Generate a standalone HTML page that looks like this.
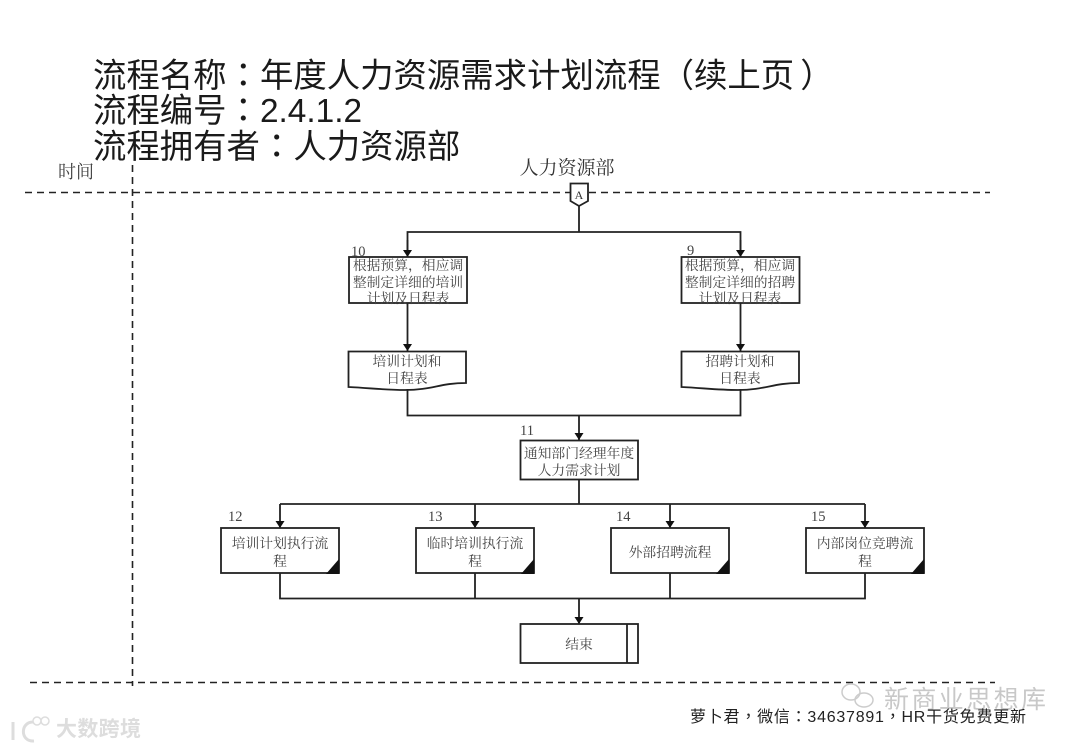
<!DOCTYPE html>
<html lang="zh-CN"><head><meta charset="utf-8">
<style>
html,body{margin:0;padding:0;background:#fff;width:1080px;height:748px;overflow:hidden}
svg{display:block}
text{text-spacing-trim:space-all}
.t{font-family:"Liberation Sans","Noto Sans CJK SC",sans-serif;font-size:33.4px;fill:#1a1a1a}
.c{font-family:"Noto Sans CJK TC",sans-serif}
.s{font-family:"Liberation Serif","Noto Serif CJK SC",serif;font-size:13.8px;fill:#444;text-anchor:middle}
.n{font-family:"Liberation Serif",serif;font-size:14.5px;fill:#444}
.l{fill:none;stroke:#222;stroke-width:1.8}
.b{fill:#fff;stroke:#222;stroke-width:1.8}
.d{fill:none;stroke:#222;stroke-width:1.6;stroke-dasharray:7 5}
</style></head><body>
<svg width="1080" height="748" viewBox="0 0 1080 748" xmlns="http://www.w3.org/2000/svg">
<defs><marker id="a" markerUnits="userSpaceOnUse" markerWidth="8" markerHeight="10" refX="7" refY="5" orient="auto"><path d="M0 0.500L7 5L0 9.500Z" fill="#111"/></marker></defs>
<text class="t" x="93" y="87">流程名称<tspan class="c" lang="zh-TW">：</tspan>年度人力资源需求计划流程（续上页<tspan dx="6">）</tspan></text>
<text class="t" x="93" y="122">流程编号<tspan class="c" lang="zh-TW">：</tspan>2.4.1.2</text>
<text class="t" x="93" y="158">流程拥有者<tspan class="c" lang="zh-TW">：</tspan>人力资源部</text>
<text x="58" y="178" style="font-family:'Liberation Serif','Noto Serif CJK SC',serif;font-size:18px;fill:#444">时间</text>
<text x="567" y="174" style="font-family:'Liberation Serif','Noto Serif CJK SC',serif;font-size:19px;fill:#333;text-anchor:middle">人力资源部</text>
<path class="d" d="M25 192.500H990"/>
<path class="d" d="M30 682.500H995"/>
<path class="d" d="M132.500 165V686"/>
<path class="b" d="M570.500 183.500H588V201L579 206L570.500 201Z"/>
<text x="579" y="199" style="font-family:'Liberation Serif',serif;font-size:12px;fill:#333;text-anchor:middle">A</text>
<path class="l" d="M579 206V232"/>
<path class="l" d="M407.500 257V232H740.500V257"/>
<path class="l" marker-end="url(#a)" d="M407.500 240V257"/>
<path class="l" marker-end="url(#a)" d="M740.500 240V257"/>
<rect class="b" x="349" y="257" width="118" height="46"/>
<rect class="b" x="681.500" y="257" width="118" height="46"/>
<text class="n" x="351" y="256">10</text><text class="n" x="687" y="255">9</text>
<text class="s" x="408" y="270">根据预算，相应调</text><text class="s" x="408" y="287">整制定详细的培训</text><text class="s" x="408" y="303">计划及日程表</text>
<text class="s" x="740" y="270">根据预算，相应调</text><text class="s" x="740" y="287">整制定详细的招聘</text><text class="s" x="740" y="303">计划及日程表</text>
<path class="l" marker-end="url(#a)" d="M407.500 303V351"/>
<path class="l" marker-end="url(#a)" d="M740.500 303V351"/>
<path class="b" d="M348.500 351.500H466V383C440 383 432 390 405 390C385 390 370 388 348.500 387Z"/>
<path class="b" d="M681.500 351.500H799V383C773 383 765 390 738 390C718 390 703 388 681.500 387Z"/>
<text class="s" x="407" y="366">培训计划和</text><text class="s" x="407" y="383">日程表</text>
<text class="s" x="740" y="366">招聘计划和</text><text class="s" x="740" y="383">日程表</text>
<path class="l" d="M407.500 389V415.500H740.500V389"/>
<path class="l" marker-end="url(#a)" d="M579 415V440"/>
<text class="n" x="520" y="435">11</text>
<rect class="b" x="520.500" y="440.500" width="117.500" height="39"/>
<text class="s" x="579" y="458">通知部门经理年度</text><text class="s" x="579" y="475">人力需求计划</text>
<path class="l" d="M579 479V504"/>
<path class="l" d="M280 504H865"/>
<path class="l" marker-end="url(#a)" d="M280 504V528"/>
<path class="l" marker-end="url(#a)" d="M475 504V528"/>
<path class="l" marker-end="url(#a)" d="M670 504V528"/>
<path class="l" marker-end="url(#a)" d="M865 504V528"/>
<text class="n" x="228" y="521">12</text><text class="n" x="428" y="521">13</text><text class="n" x="616" y="521">14</text><text class="n" x="811" y="521">15</text>
<rect class="b" x="221" y="528" width="118" height="45"/>
<rect class="b" x="416" y="528" width="118" height="45"/>
<rect class="b" x="611" y="528" width="118" height="45"/>
<rect class="b" x="806" y="528" width="118" height="45"/>
<path d="M326 574L339 559V574Z" fill="#111"/><path d="M521 574L534 559V574Z" fill="#111"/>
<path d="M716 574L729 559V574Z" fill="#111"/><path d="M911 574L924 559V574Z" fill="#111"/>
<text class="s" x="280" y="548">培训计划执行流</text><text class="s" x="280" y="566">程</text>
<text class="s" x="475" y="548">临时培训执行流</text><text class="s" x="475" y="566">程</text>
<text class="s" x="670" y="557">外部招聘流程</text>
<text class="s" x="865" y="548">内部岗位竞聘流</text><text class="s" x="865" y="566">程</text>
<path class="l" d="M280 573V598.500H865V573M475 573V598.500M670 573V598.500"/>
<path class="l" marker-end="url(#a)" d="M579 598V624"/>
<rect class="b" x="520.500" y="624" width="117.500" height="39"/>
<path class="l" d="M627 624V663"/>
<text class="s" x="579" y="649">结束</text>
<text x="884" y="708" textLength="162" style="font-family:'Liberation Sans','Noto Sans CJK SC',sans-serif;font-size:25px;fill:#bbb;opacity:.8">新商业思想库</text>
<text x="690" y="722" textLength="336" style="font-family:'Liberation Sans','Noto Sans CJK SC',sans-serif;font-size:16px;fill:#222">萝卜君<tspan class="c" lang="zh-TW">，</tspan>微信<tspan class="c" lang="zh-TW">：</tspan>34637891<tspan class="c" lang="zh-TW">，</tspan>HR干货免费更新</text>
<g fill="none" stroke="#ccc" stroke-width="1.500"><ellipse cx="851" cy="692" rx="9" ry="8"/><ellipse cx="864" cy="700" rx="9" ry="7"/></g>
<g fill="none" stroke="#ddd" stroke-width="3"><path d="M13 722V740M33 722C20 722 20 742 34 741"/><circle cx="37" cy="721" r="4" stroke-width="1.500"/><circle cx="45" cy="721" r="4" stroke-width="1.500"/></g>
<text x="56" y="736" textLength="85" style="font-family:'Liberation Sans','Noto Sans CJK SC',sans-serif;font-size:21px;font-weight:700;fill:#ddd">大数跨境</text>
</svg>
</body></html>
